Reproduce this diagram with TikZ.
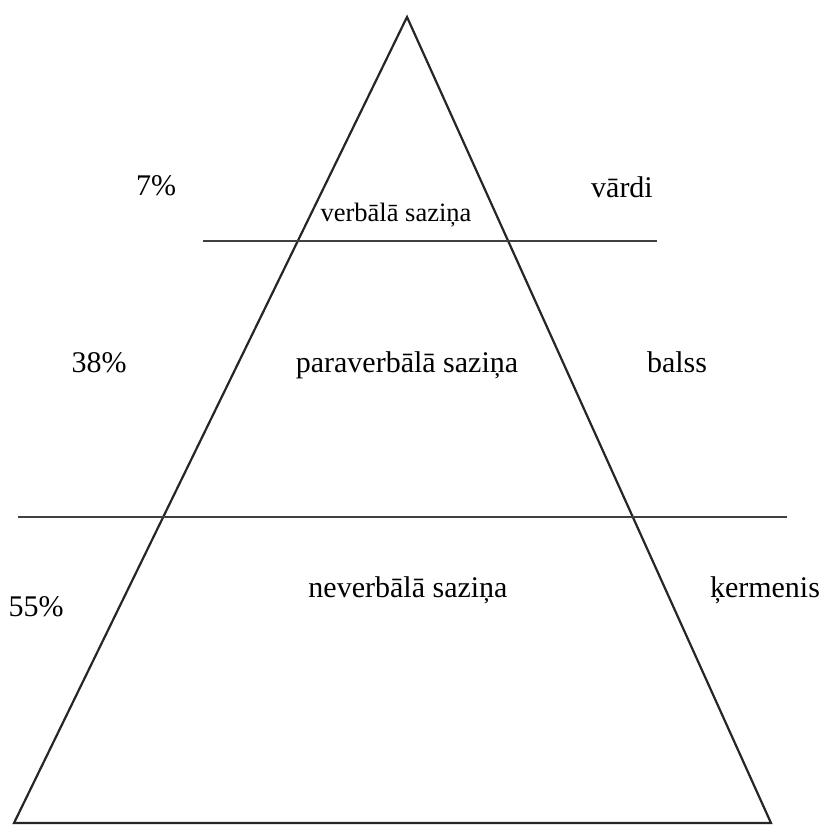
\documentclass[tikz,border=0pt]{standalone}
\usepackage{fontspec}
\setmainfont{Liberation Serif}
\begin{document}
\begin{tikzpicture}[x=1pt,y=-1pt,
  edge/.style={draw=black!85,line width=2.2pt,line join=miter},
  band/.style={draw=black!75,line width=2.8pt},
  lbl/.style={inner sep=0pt,anchor=base,font=\fontsize{30}{36}\selectfont},
  lblsmall/.style={inner sep=0pt,anchor=base,font=\fontsize{26.5}{32}\selectfont}]
\useasboundingbox (0,0) rectangle (820,825);
% triangle
\coordinate (apex) at (407,17);
\coordinate (bl) at (14,823);
\coordinate (br) at (771,823);
\draw[edge] (bl) -- (apex) -- (br) -- cycle;
% horizontal lines
\coordinate (u1) at (203,241);
\coordinate (u2) at (657,241);
\coordinate (l1) at (18,517);
\coordinate (l2) at (787,517);
\draw[band] (u1) -- (u2);
\draw[band] (l1) -- (l2);
% labels
\node[lbl] (p7) at (156,195) {7\%};
\node[lbl] (w1) at (622,197) {vārdi};
\node[lblsmall] (t1) at (396,221) {verbālā saziņa};
\node[lbl] (p38) at (99,372) {38\%};
\node[lbl] (t2) at (407,372) {paraverbālā saziņa};
\node[lbl] (w2) at (677,372) {balss};
\node[lbl] (t3) at (408,597) {neverbālā saziņa};
\node[lbl] (w3) at (765,597) {ķermenis};
\node[lbl] (p55) at (36,616) {55\%};
\end{tikzpicture}
\end{document}
